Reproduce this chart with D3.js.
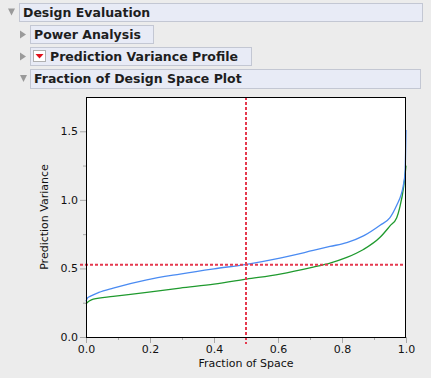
<!DOCTYPE html>
<html>
<head>
<meta charset="utf-8">
<style>
  body { margin: 0; background: #ececec; }
  svg { display: block; }
</style>
</head>
<body>
<svg width="431" height="378"></svg>

<script src="https://cdn.jsdelivr.net/npm/d3@7"></script>
<script>
// outline headers (JMP style report)
const headers = ["Design Evaluation", "Power Analysis", "Prediction Variance Profile", "Fraction of Design Space Plot"];
const headerOpen = [true, false, false, true];

// fraction of design space curves
const blueFrac = [0, 0.005, 0.0125, 0.04, 0.085, 0.19, 0.294, 0.4, 0.502, 0.606, 0.71, 0.7625, 0.815, 0.867, 0.919, 0.95, 0.971, 0.985, 0.991, 0.997, 1.0];
const blueVar  = [0.26, 0.285, 0.296, 0.325, 0.357, 0.417, 0.459, 0.497, 0.53, 0.575, 0.631, 0.66, 0.688, 0.737, 0.815, 0.87, 0.96, 1.04, 1.097, 1.2, 1.51];
const greenFrac = [0, 0.01, 0.0229, 0.085, 0.19, 0.294, 0.4, 0.502, 0.606, 0.71, 0.7625, 0.815, 0.867, 0.919, 0.95, 0.971, 0.98, 0.993, 1.0];
const greenVar  = [0.243, 0.262, 0.277, 0.296, 0.325, 0.357, 0.385, 0.422, 0.459, 0.51, 0.539, 0.58, 0.638, 0.727, 0.81, 0.87, 0.94, 1.1, 1.25];

const xTicks = [0, 0.2, 0.4, 0.6, 0.8, 1.0];
const yTicks = [0, 0.5, 1.0, 1.5];
const refFrac = 0.5;
const refVar = 0.527;

let svg = d3.select("svg");
const font = "'DejaVu Sans', 'Lucida Grande', sans-serif";

// ---- outline boxes ----
const boxes = [
  {x: 19, y: 3, w: 403, h: 18, tri: 8},
  {x: 30, y: 25, w: 123, h: 18, tri: 20},
  {x: 30, y: 47, w: 221, h: 18, tri: 20},
  {x: 30, y: 69, w: 390, h: 19, tri: 20}
];

boxes.forEach((b, i) => {
  let g = svg.append("g");
  g.append("rect").attr("x", b.x + 0.5).attr("y", b.y + 0.5).attr("width", b.w).attr("height", b.h)
    .attr("fill", "#e8ebf6").attr("stroke", "#c3c7d3");
  // disclosure triangle
  let cy = b.y + b.h / 2 + 0.5;
  if (headerOpen[i]) {
    g.append("path").attr("d", `M${b.tri},${cy - 4} L${b.tri + 7},${cy - 4} L${b.tri + 3.5},${cy + 3} Z`).attr("fill", "#9a9a9a");
  } else {
    g.append("path").attr("d", `M${b.tri},${cy - 4} L${b.tri + 6},${cy} L${b.tri},${cy + 4} Z`).attr("fill", "#9a9a9a");
  }
  let tx = b.x + 4;
  if (i == 2) {
    // red triangle menu icon
    g.append("rect").attr("x", 33.5).attr("y", 50.5).attr("width", 12).attr("height", 11).attr("fill", "#fff").attr("stroke", "#b0b0b0");
    g.append("path").attr("d", "M35.5,54 L43.5,54 L39.5,58.5 Z").attr("fill", "#e0101c");
    tx = 50;
  }
  g.append("text").attr("x", tx).attr("y", b.y + 14).text(headers[i])
    .attr("font-family", font).attr("font-weight", "bold").attr("font-size", "12.5px").attr("fill", "#1e1e1e");
});

// ---- plot ----
const pLeft = 86, pRight = 406, pTop = 97, pBottom = 337;
let x = d3.scaleLinear().domain([0, 1]).range([pLeft, pRight]);
let y = d3.scaleLinear().domain([0, 1.75]).range([pBottom, pTop]);

let plot = svg.append("g");
plot.append("rect").attr("x", pLeft).attr("y", pTop).attr("width", pRight - pLeft).attr("height", pBottom - pTop).attr("fill", "#fff");

// minor ticks
let xAxis = plot.append("g").attr("transform", `translate(0,${pBottom})`)
  .call(d3.axisBottom(x).tickValues(d3.range(0, 1.01, 0.1)).tickSize(3).tickFormat(""));
xAxis.select(".domain").remove();
xAxis.selectAll("line").attr("stroke", "#a8a8a8");
let xAxis2 = plot.append("g").attr("transform", `translate(0,${pBottom})`)
  .call(d3.axisBottom(x).tickValues(xTicks).tickSize(6).tickPadding(2).tickFormat(d3.format(".1f")));
xAxis2.select(".domain").remove();
xAxis2.selectAll("line").attr("stroke", "#a8a8a8");
xAxis2.selectAll("text").attr("font-family", font).attr("font-size", "11px").attr("fill", "#111");

let yAxis = plot.append("g").attr("transform", `translate(${pLeft},0)`)
  .call(d3.axisLeft(y).tickValues([0.25, 0.75, 1.25]).tickSize(3).tickFormat(""));
yAxis.select(".domain").remove();
yAxis.selectAll("line").attr("stroke", "#a8a8a8");
let yAxis2 = plot.append("g").attr("transform", `translate(${pLeft},0)`)
  .call(d3.axisLeft(y).tickValues(yTicks).tickSize(6).tickPadding(2).tickFormat(d3.format(".1f")));
yAxis2.select(".domain").remove();
yAxis2.selectAll("line").attr("stroke", "#a8a8a8");
yAxis2.selectAll("text").attr("font-family", font).attr("font-size", "11px").attr("fill", "#111");

// curves
let line = d3.line().x(d => x(d[0])).y(d => y(d[1])).curve(d3.curveMonotoneX);
plot.append("path").attr("d", line(d3.zip(greenFrac, greenVar))).attr("fill", "none").attr("stroke", "#1f9a2e").attr("stroke-width", 1.3);
plot.append("path").attr("d", line(d3.zip(blueFrac, blueVar))).attr("fill", "none").attr("stroke", "#4a8bf2").attr("stroke-width", 1.3);

// reference lines
plot.append("line").attr("x1", pLeft - 6).attr("x2", pRight).attr("y1", y(refVar)).attr("y2", y(refVar))
  .attr("stroke", "#e5394f").attr("stroke-width", 2).attr("stroke-dasharray", "3,2");
plot.append("line").attr("x1", x(refFrac)).attr("x2", x(refFrac)).attr("y1", pTop).attr("y2", pBottom + 7)
  .attr("stroke", "#e5394f").attr("stroke-width", 2).attr("stroke-dasharray", "3,2");

// frame
plot.append("rect").attr("x", pLeft + 0.5).attr("y", pTop + 0.5).attr("width", pRight - pLeft - 1).attr("height", pBottom - pTop)
  .attr("fill", "none").attr("stroke", "#000");

// axis titles
plot.append("text").attr("x", (pLeft + pRight) / 2).attr("y", 367).attr("text-anchor", "middle").text("Fraction of Space")
  .attr("font-family", font).attr("font-size", "11px").attr("fill", "#111");
plot.append("text").attr("transform", `translate(48,${(pTop + pBottom) / 2}) rotate(-90)`).attr("text-anchor", "middle").text("Prediction Variance")
  .attr("font-family", font).attr("font-size", "11px").attr("fill", "#111");
</script>
</body>
</html>
